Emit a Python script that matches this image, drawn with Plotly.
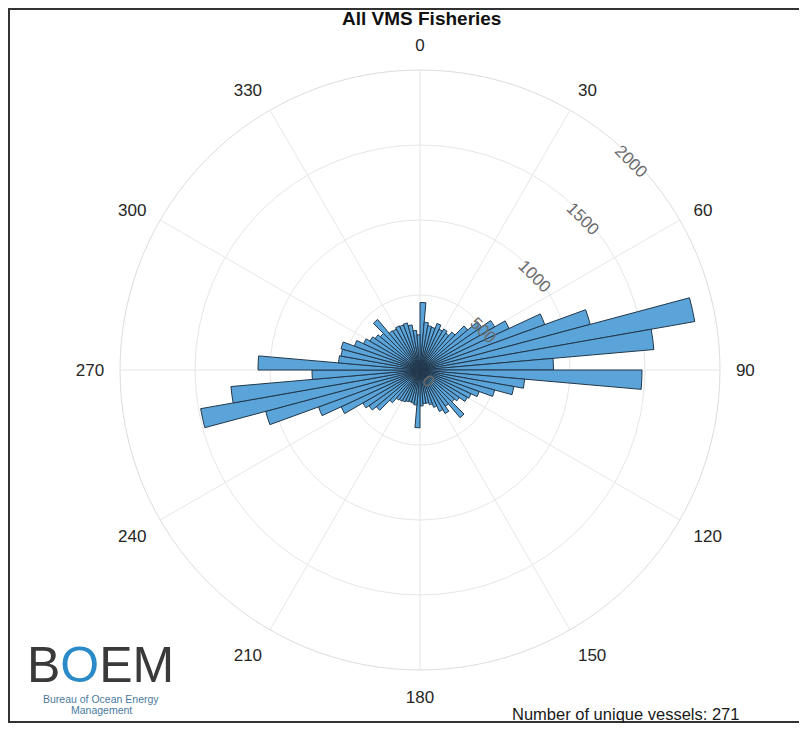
import plotly.graph_objects as go

# Bin start angles (degrees, compass: 0 = north, clockwise), 5-degree bins
bin_start = list(range(0, 360, 5))
bin_width = 5

# Counts per bin
counts = [
    450, 320, 300, 295, 330, 300, 315, 300, 330, 415, 500, 575,     # 0-60
    655, 885, 1175, 1860, 1565, 890,                                  # 60-90
    1480, 700, 635, 515, 420, 375,                                    # 90-120
    365, 320, 300, 415, 295, 335,                                     # 120-150
    305, 265, 240, 225, 225, 240,                                     # 150-180
    385, 235, 225, 220, 225, 235,                                     # 180-210
    240, 245, 285, 380, 415, 440,                                     # 210-240
    580, 720, 1065, 1485, 1265, 720,                                  # 240-270
    1080, 545, 535, 545, 465, 415,                                    # 270-300
    385, 365, 345, 440, 320, 315,                                     # 300-330
    325, 320, 325, 305, 265, 235,                                     # 330-360
]

theta_ticks = [0, 30, 60, 90, 120, 150, 180, 210, 240, 270, 300, 330]
r_ticks = [0, 500, 1000, 1500, 2000]

title_text = "All VMS Fisheries"
note_text = "Number of unique vessels: 271"
logo_sub1 = "Bureau of Ocean Energy"
logo_sub2 = "Management"

# page has an 8px body margin: the figure starts at (8, 8) in the window
OFF = 8
W, H = 807 - OFF, 731 - OFF
cx, cy, R = 420 - OFF, 370 - OFF, 300


def px(x):
    return (x - OFF) / W


def py(y):
    return 1 - (y - OFF) / H


theta_centers = [b + bin_width / 2 for b in bin_start]

fig = go.Figure()
fig.add_trace(go.Barpolar(
    r=counts,
    theta=theta_centers,
    width=[bin_width] * len(counts),
    marker=dict(color="#5ba4d9", line=dict(color="#22374a", width=1)),
    hoverinfo="r+theta",
))

RA = 50  # radial label axis angle (screen degrees, CCW from east)

fig.update_layout(
    width=W, height=H,
    margin=dict(l=0, r=0, t=0, b=0),
    paper_bgcolor="white",
    showlegend=False,
    font=dict(family="Liberation Sans, Arial", color="#262626"),
    polar=dict(
        domain=dict(x=[(cx - R) / W, (cx + R) / W], y=[(H - cy - R) / H, (H - cy + R) / H]),
        bgcolor="white",
        bargap=0,
        angularaxis=dict(
            rotation=90, direction="clockwise",
            tickmode="array", tickvals=theta_ticks, ticktext=[str(t) for t in theta_ticks],
            ticks="outside", ticklen=12, tickcolor="rgba(0,0,0,0)",
            tickfont=dict(size=17, color="#262626"),
            showgrid=True, gridcolor="#e6e6e6", gridwidth=1,
            showline=True, linecolor="#dcdcdc", linewidth=1,
        ),
        radialaxis=dict(
            range=[0, 2000], tickmode="array", tickvals=r_ticks,
            ticktext=[str(t) for t in r_ticks],
            angle=RA, tickangle=RA + 45,
            showline=False, ticks="",
            tickfont=dict(size=17, color="#6b6b6b"),
            showgrid=True, gridcolor="#e6e6e6", gridwidth=1,
        ),
    ),
    shapes=[dict(type="rect", xref="paper", yref="paper",
                 x0=px(9), x1=px(800), y0=py(722), y1=py(9),
                 line=dict(color="#333333", width=2), fillcolor="rgba(0,0,0,0)", layer="above")],
    annotations=[
        dict(text="<b>" + title_text + "</b>", x=px(421), y=py(19), xref="paper", yref="paper",
             showarrow=False, font=dict(size=19, color="#111111"), xanchor="center", yanchor="middle"),
        dict(text=note_text, x=px(625), y=py(714), xref="paper", yref="paper",
             showarrow=False, font=dict(size=16.5, color="#1a1a1a"), xanchor="center", yanchor="middle"),
        dict(text="B<span style='color:#2a8bc8'>O</span>EM", x=px(100), y=py(665), xref="paper", yref="paper",
             showarrow=False, font=dict(size=50, color="#3a3a3a", family="Liberation Sans, Arial"),
             xanchor="center", yanchor="middle"),
        dict(text=logo_sub1, x=px(101), y=py(699), xref="paper", yref="paper",
             showarrow=False, font=dict(size=10.5, color="#4a7aa0"), xanchor="center", yanchor="middle"),
        dict(text=logo_sub2, x=px(101), y=py(710), xref="paper", yref="paper",
             showarrow=False, font=dict(size=10.5, color="#4a7aa0"), xanchor="center", yanchor="middle"),
    ],
)

fig.write_html("out.html")
